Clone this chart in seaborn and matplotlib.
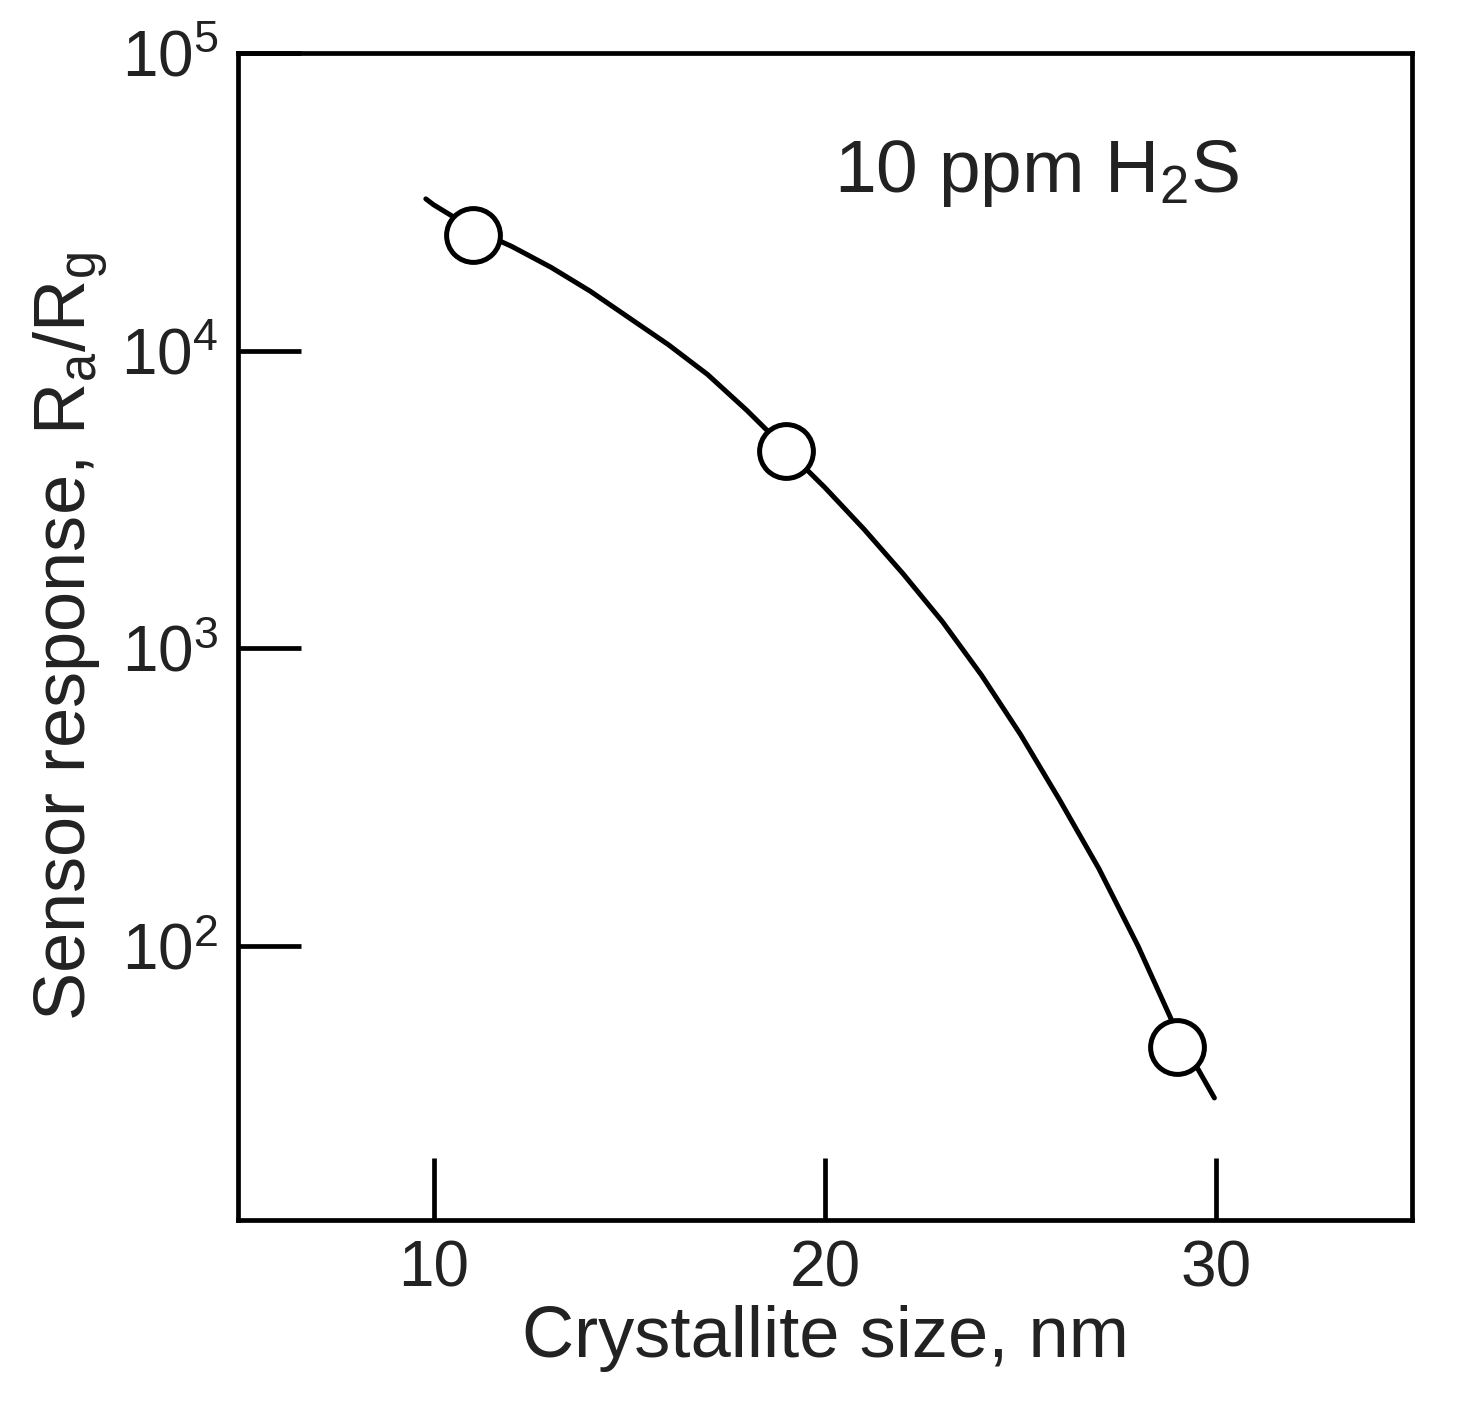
import numpy as np
import seaborn as sns
import matplotlib.pyplot as plt

# measured points
size_nm = [11, 19, 29]
response = [24500, 4600, 46]

# fitted curve (log10 of response)
curve_x = [9.8, 10, 11, 12, 13, 14, 15, 16, 17, 18, 19, 20, 21, 22, 23, 24, 25,
           26, 27, 28, 29, 29.95]
curve_log = [4.51, 4.49, 4.41, 4.35, 4.28, 4.20, 4.11, 4.02, 3.92, 3.80, 3.67,
             3.54, 3.40, 3.25, 3.09, 2.91, 2.71, 2.49, 2.26, 2.00, 1.71, 1.49]

x_ticks = [10, 20, 30]
y_ticks = [1e2, 1e3, 1e4, 1e5]
y_labels = ['10$^2$', '10$^3$', '10$^4$', '10$^5$']

sns.set_theme(style="white")
plt.rcParams['font.family'] = ['Liberation Sans', 'DejaVu Sans']
plt.rcParams['mathtext.fontset'] = 'custom'
plt.rcParams['mathtext.rm'] = 'Liberation Sans'
plt.rcParams['mathtext.it'] = 'Liberation Sans'

fig = plt.figure(figsize=(14.58, 14.26), dpi=100)
ax = fig.add_axes([238 / 1458, 1 - 1220 / 1426, 1174 / 1458, 1167 / 1426])

sns.lineplot(x=curve_x, y=10 ** np.array(curve_log), ax=ax, color='black', lw=3.6, sort=False)
sns.scatterplot(x=size_nm, y=response, ax=ax, s=1500, facecolor='white',
                edgecolor='black', linewidth=3.6, zorder=5)

ax.set_yscale('log')
ax.set_xlim(5, 35)
ax.set_ylim(10 ** 1.08, 1e5)
ax.set_xticks(x_ticks)
ax.set_xticklabels([str(t) for t in x_ticks])
ax.set_yticks(y_ticks)
ax.set_yticklabels(y_labels)
ax.minorticks_off()
ax.tick_params(direction='in', length=45, width=3.4, labelsize=46, pad=14,
               left=True, bottom=True, color='black', labelcolor='#222222')

for s in ax.spines.values():
    s.set_linewidth(3.4)
    s.set_color('black')

ax.set_xlabel('Crystallite size, nm', fontsize=52, labelpad=4, color='#222222')
ax.set_ylabel('Sensor response, R$_\\mathregular{a}$/R$_\\mathregular{g}$', fontsize=52,
              labelpad=8, color='#222222')
ax.text(0.508, 0.897, '10 ppm H$_\\mathregular{2}$S', transform=ax.transAxes,
        fontsize=54, ha='left', va='center', color='#222222')

plt.savefig('out.png', dpi=100)
